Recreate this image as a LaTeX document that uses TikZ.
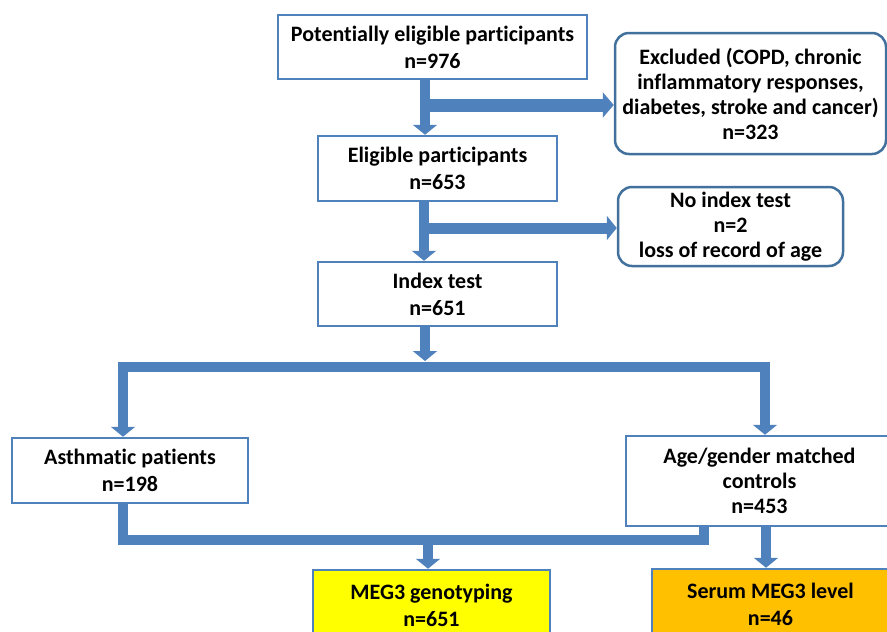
\documentclass[tikz,border=0pt]{standalone}
\usepackage{fontspec}
\setmainfont{Carlito}[Ligatures={NoCommon,NoContextual}, RawFeature={-liga;-clig;-calt}]
\usetikzlibrary{arrows.meta}
\definecolor{flowblue}{HTML}{4F81BD}
\definecolor{rndblue}{HTML}{41719C}
\definecolor{megyellow}{HTML}{FFFF00}
\definecolor{serumorange}{HTML}{FFC000}
\tikzset{
  box/.style={draw=flowblue, line width=2.5pt, fill=white, inner sep=0pt, align=center,
    font=\bfseries\fontsize{22}{25}\selectfont},
  twoline/.style={font=\bfseries\fontsize{22}{27}\selectfont},
  rbox/.style={box, draw=rndblue, rounded corners=14pt},
  flow/.style={draw=flowblue, line width=10.5pt, line join=miter, line cap=butt},
  tip/.style={-{Triangle[width=24pt,length=10pt]}},
}
\begin{document}
\begin{tikzpicture}[x=1pt,y=-1pt]
\useasboundingbox (0,0) rectangle (887,632);
\clip (0,0) rectangle (887,632);
\fill[white] (0,0) rectangle (887,632);
% nodes
\node[box, twoline, minimum width=309pt, minimum height=64pt] (b1) at (432.5,47) {Potentially eligible participants\\n=976};
\node[rbox, minimum width=271pt, minimum height=121pt] (excl) at (750.5,93.5) {Excluded (COPD, chronic\\inflammatory responses,\\diabetes, stroke and cancer)\\n=323};
\node[box, twoline, minimum width=239pt, minimum height=65pt] (b2) at (437.5,168.5) {Eligible participants\\n=653};
\node[rbox, minimum width=225pt, minimum height=79pt] (noidx) at (730.5,226.5) {No index test\\n=2\\loss of record of age};
\node[box, twoline, minimum width=239pt, minimum height=64pt] (b3) at (437.5,294) {Index test\\n=651};
\node[box, twoline, minimum width=236pt, minimum height=65pt] (asth) at (130,470.5) {Asthmatic patients\\n=198};
\node[box, minimum width=267pt, minimum height=90pt] (ctrl) at (759.5,481) {Age/gender matched\\controls\\n=453};
\node[box, twoline, fill=megyellow, minimum width=237pt, minimum height=70pt] (meg) at (431.5,605) {MEG3 genotyping\\n=651};
\node[box, twoline, fill=serumorange, minimum width=237pt, minimum height=71pt] (serum) at (770.5,604.5) {Serum MEG3 level\\n=46};
% coordinates
\coordinate (s1) at (425,0);
\coordinate (j1) at (425,105);
\coordinate (s2) at (424,0);
\coordinate (j2) at (424,228);
\coordinate (s3) at (425,361);
\coordinate (sl) at (123,367);
\coordinate (sr) at (765,367);
\coordinate (bl) at (123,540);
\coordinate (br) at (704,540);
\coordinate (m) at (428,540);
\coordinate (r) at (766,0);
% connectors
\draw[flow, tip] (b1.south -| s1) -- (b2.north -| s1);
\draw[flow, line width=13pt, -{Triangle[width=25pt,length=11pt]}] (j1) -- (excl.west |- j1);
\draw[flow, tip] (b2.south -| s2) -- (b3.north -| s2);
\draw[flow, line width=11pt, tip] (j2) -- (noidx.west |- j2);
\draw[flow, tip] (b3.south -| s3) -- (s3);
\draw[flow, {Triangle[width=24pt,length=10pt]}-{Triangle[width=24pt,length=10pt]}] (asth.north -| sl) -- (sl) -- (sr) -- (ctrl.north -| sr);
\draw[flow] (asth.south -| bl) -- (bl) -- (br) -- (ctrl.south -| br);
\draw[flow, tip] (m) -- (meg.north -| m);
\draw[flow, tip] (ctrl.south -| r) -- (serum.north -| r);
\end{tikzpicture}
\end{document}
